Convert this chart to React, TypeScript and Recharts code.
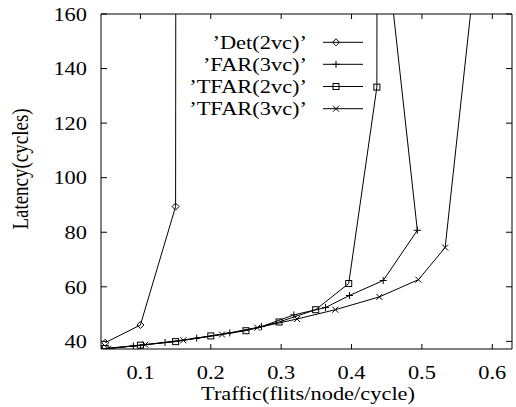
import React from "react";
import { LineChart, Line, XAxis, YAxis, ReferenceLine } from "recharts";

// traffic (x) and latency (y); last point of each series runs off the top
const detX = [0.05, 0.1, 0.15, 0.151];
const detY = [39.5, 46.0, 89.4, 400];

const farX = [0.045, 0.09, 0.135, 0.18, 0.227, 0.272, 0.318, 0.363, 0.397, 0.445, 0.4935, 0.4];
const farY = [37.2, 38.3, 39.6, 41.2, 43.1, 45.4, 49.7, 52.4, 56.8, 62.3, 80.7, 300];

const tfar2X = [0.05, 0.1, 0.15, 0.2, 0.25, 0.297, 0.349, 0.396, 0.436, 0.437];
const tfar2Y = [37.4, 38.6, 39.9, 42.0, 43.9, 47.1, 51.6, 61.2, 133.2, 400];

const tfar3X = [0.054, 0.107, 0.161, 0.216, 0.266, 0.3226, 0.377, 0.4395, 0.495, 0.533, 0.628];
const tfar3Y = [37.3, 38.8, 40.4, 42.5, 45.0, 48.2, 51.6, 56.3, 62.6, 74.4, 300];

const seriesNames = ["’Det(2vc)’", "’FAR(3vc)’", "’TFAR(2vc)’", "’TFAR(3vc)’"];
const xTicks = [0.1, 0.2, 0.3, 0.4, 0.5, 0.6];
const yTicks = [40, 60, 80, 100, 120, 140, 160];
const xDomain = [0.044, 0.628];
const yDomain = [37.2, 160];

const toPts = (xs: number[], ys: number[]) => xs.map((x, i) => ({ x, y: ys[i] }));

type Kind = "diamond" | "plus" | "square" | "cross";

const series: { name: string; data: { x: number; y: number }[]; kind: Kind }[] = [
  { name: seriesNames[0], data: toPts(detX, detY), kind: "diamond" },
  { name: seriesNames[1], data: toPts(farX, farY), kind: "plus" },
  { name: seriesNames[2], data: toPts(tfar2X, tfar2Y), kind: "square" },
  { name: seriesNames[3], data: toPts(tfar3X, tfar3Y), kind: "cross" },
];

const FONT = "'Liberation Serif', 'Times New Roman', serif";
const SX = 1.18;
const PLOT_TOP = 14;

function SText({ x, y, anchor, rotate, children }: any) {
  return (
    <text
      transform={`translate(${x},${y}) scale(${SX},1)${rotate ? ` rotate(${rotate})` : ""}`}
      textAnchor={anchor}
      fontFamily={FONT}
      fontSize={19}
      fill="#000"
    >
      {children}
    </text>
  );
}

function Marker({ kind, cx, cy }: { kind: Kind; cx: number; cy: number }) {
  const st = { stroke: "#000", strokeWidth: 1, fill: "none" };
  if (kind === "diamond") {
    const s = 3.5;
    return <polygon {...st} points={`${cx},${cy - s} ${cx + s},${cy} ${cx},${cy + s} ${cx - s},${cy}`} />;
  }
  if (kind === "plus") {
    const s = 3.5;
    return <path {...st} d={`M${cx - s},${cy}H${cx + s}M${cx},${cy - s}V${cy + s}`} />;
  }
  if (kind === "square") {
    const s = 3;
    return <rect {...st} x={cx - s} y={cy - s} width={2 * s} height={2 * s} />;
  }
  const s = 3;
  return <path {...st} d={`M${cx - s},${cy - s}L${cx + s},${cy + s}M${cx - s},${cy + s}L${cx + s},${cy - s}`} />;
}

// bottom tick also draws its mirror on the top border (gnuplot style)
const BottomTick = ({ x, y, payload }: any) => (
  <g>
    <line x1={x} x2={x} y1={y} y2={y - 5} stroke="#000" />
    <line x1={x} x2={x} y1={PLOT_TOP} y2={PLOT_TOP + 5} stroke="#000" />
    <SText x={x} y={379} anchor="middle">{payload.value}</SText>
  </g>
);
const LeftTick = ({ x, y, payload }: any) => (
  <g>
    <line x1={x} x2={x + 6} y1={y} y2={y} stroke="#000" />
    <SText x={87} y={y + 6.7} anchor="end">{payload.value}</SText>
  </g>
);
const RightTick = ({ x, y }: any) => <line x1={x} x2={x - 6} y1={y} y2={y} stroke="#000" />;

function Overlay() {
  const rows = [42.3, 64.3, 86.5, 108.7];
  return (
    <svg width={516} height={407} style={{ position: "absolute", left: 0, top: 0, pointerEvents: "none" }}>
      <SText x={308} y={400} anchor="middle">Traffic(flits/node/cycle)</SText>
      <SText x={28} y={169} anchor="middle" rotate={-90}>Latency(cycles)</SText>
      {series.map((s, i) => (
        <g key={s.name}>
          <SText x={307} y={rows[i] + 6.5} anchor="end">{s.name}</SText>
          <line x1={323} x2={363} y1={rows[i]} y2={rows[i]} stroke="#000" />
          <Marker kind={s.kind} cx={336} cy={rows[i]} />
        </g>
      ))}
    </svg>
  );
}

export default function App() {
  return (
    <div style={{ position: "absolute", left: 0, top: 0, width: 516, height: 407, background: "#fff" }}>
      <LineChart width={516} height={407} margin={{ top: PLOT_TOP, right: 3, bottom: 0, left: 0 }}>
        <XAxis
          type="number"
          dataKey="x"
          domain={xDomain}
          allowDataOverflow
          ticks={xTicks}
          tickSize={0}
          tickMargin={0}
          tickLine={false}
          height={58}
          axisLine={{ stroke: "#000" }}
          tick={<BottomTick />}
        />
        <YAxis
          type="number"
          domain={yDomain}
          allowDataOverflow
          ticks={yTicks}
          tickSize={0}
          tickMargin={0}
          tickLine={false}
          width={101}
          axisLine={{ stroke: "#000" }}
          tick={<LeftTick />}
        />
        <YAxis
          yAxisId="right"
          orientation="right"
          type="number"
          domain={yDomain}
          allowDataOverflow
          ticks={yTicks}
          tickSize={0}
          tickMargin={0}
          tickLine={false}
          width={1}
          axisLine={{ stroke: "#000" }}
          tick={<RightTick />}
        />
        {/* top border of the frame */}
        <ReferenceLine y={160} stroke="#000" strokeWidth={1.2} />
        {/* invisible copy tied to the right axis so it gets drawn */}
        <Line
          yAxisId="right"
          data={series[2].data}
          dataKey="y"
          stroke="none"
          dot={false}
          activeDot={false}
          isAnimationActive={false}
          legendType="none"
        />
        {series.map((s) => (
          <Line
            key={s.name}
            name={s.name}
            data={s.data}
            dataKey="y"
            stroke="#000"
            strokeWidth={1}
            isAnimationActive={false}
            dot={(p: any) => <Marker key={`${s.kind}-${p.index}`} kind={s.kind} cx={p.cx} cy={p.cy} />}
            activeDot={false}
          />
        ))}
      </LineChart>
      <Overlay />
    </div>
  );
}
